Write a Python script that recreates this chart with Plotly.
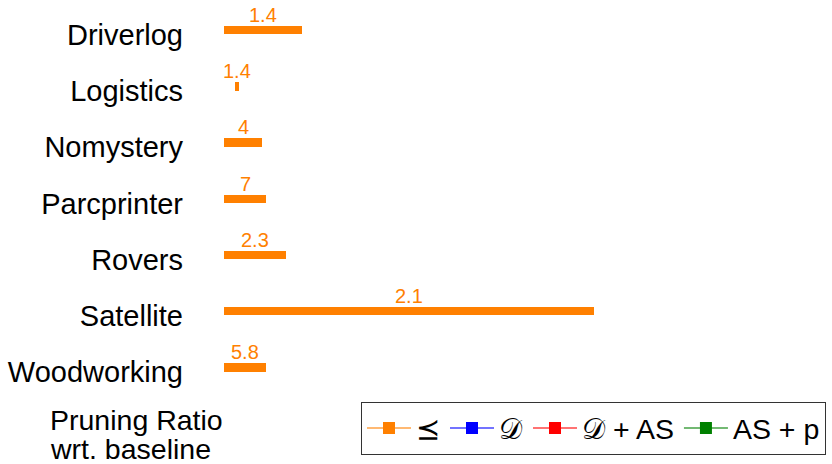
import plotly.graph_objects as go

# Domains and measured values
domains = ["Driverlog", "Logistics", "Nomystery", "Parcprinter", "Rovers", "Satellite", "Woodworking"]
bar_base = [0, 1.1, 0, 0, 0, 0, 0]
bar_len = [7.8, 0.4, 3.8, 4.2, 6.2, 37.0, 4.2]
ratio_labels = ["1.4", "1.4", "4", "7", "2.3", "2.1", "5.8"]

# Legend series
series_names = ["⪯", "𝒟", "𝒟 + AS", "AS + p"]
series_colors = ["#ff8000", "#0000ff", "#ff0000", "#008000"]
series_line = ["rgba(255,128,0,0.55)", "rgba(0,0,255,0.55)", "rgba(255,0,0,0.55)", "rgba(0,128,0,0.55)"]

title_lines = ["Pruning Ratio", "wrt. baseline"]

FONT = "Liberation Sans, Arial, Helvetica, sans-serif"
W, H = 832, 464
ML, MR, MT, MB = 224, 0, 0, 62
plot_w = W - ML - MR
plot_h = H - MT - MB


def px_to_paper_x(px):
    return (px - ML) / plot_w


def px_to_paper_y(py):
    return (H - MB - py) / plot_h


fig = go.Figure()

fig.add_trace(go.Bar(
    orientation="h",
    y=domains,
    x=bar_len,
    base=bar_base,
    width=0.15,
    offset=-0.16,
    marker=dict(color=series_colors[0], line=dict(width=0)),
    showlegend=False,
    hoverinfo="skip",
))

for name, col, lcol in zip(series_names, series_colors, series_line):
    fig.add_trace(go.Scatter(
        x=[None], y=[None], mode="lines+markers", name=name,
        line=dict(color=lcol, width=2),
        marker=dict(color=col, symbol="square", size=12),
    ))

# Ratio labels centred above each bar
for dom, b, v, lab in zip(domains, bar_base, bar_len, ratio_labels):
    fig.add_annotation(
        x=b + v / 2, y=dom, xref="x", yref="y",
        text=lab, showarrow=False,
        font=dict(family=FONT, size=20, color=series_colors[0]),
        xanchor="center", yanchor="middle", yshift=20,
    )

# Two-line axis caption in the lower-left corner
for line, cy in zip(title_lines, [420, 449]):
    fig.add_annotation(
        x=px_to_paper_x(48), y=px_to_paper_y(cy), xref="paper", yref="paper",
        text=line, showarrow=False, align="left",
        xanchor="left", yanchor="middle",
        font=dict(family=FONT, size=28.5, color="#000000"),
    )

fig.update_layout(
    width=W, height=H,
    margin=dict(l=ML, r=MR, t=MT, b=MB, pad=0),
    paper_bgcolor="white", plot_bgcolor="white",
    font=dict(family=FONT, size=28.5, color="#000000"),
    xaxis=dict(range=[0, plot_w / 10], visible=False),
    yaxis=dict(
        type="category", categoryorder="array", categoryarray=domains,
        range=[6.53, -0.62], showgrid=False, zeroline=False, showline=False,
        ticks="", ticklabelstandoff=40,
        tickfont=dict(family=FONT, size=29, color="#000000"),
    ),
    legend=dict(
        orientation="h", x=px_to_paper_x(361), y=px_to_paper_y(402),
        xanchor="left", yanchor="top",
        bordercolor="#333333", borderwidth=1, bgcolor="white",
        font=dict(family=FONT, size=28.5, color="#000000"),
        itemwidth=44, tracegroupgap=0,
    ),
    bargap=0,
)

fig.write_html("out.html")
